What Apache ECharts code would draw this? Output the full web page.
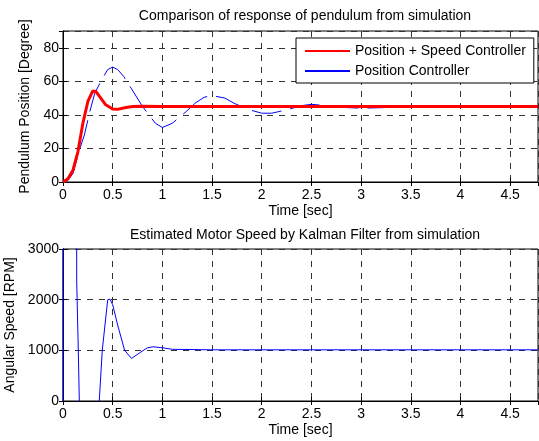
<!DOCTYPE html>
<html><head><meta charset="utf-8">
<script src="https://cdn.jsdelivr.net/npm/echarts@6/dist/echarts.min.js"></script>
<style>html,body{margin:0;padding:0;background:#fff}#c{width:539px;height:441px}</style>
</head><body><div id="c"></div>
<script>
// Top plot: pendulum position [deg] vs time [sec]
const posSpeedCtrl = [[0,0],[0.05,2],[0.1,7],[0.15,18],[0.2,35],[0.25,48],[0.3,54.3],[0.33,54],[0.38,50],[0.43,46],[0.5,43.5],[0.55,43.3],[0.62,44.3],[0.7,45],[0.8,45.2],[1.0,45],[1.5,45],[2.0,45],[2.5,45],[3.0,45],[3.5,45],[4.0,45],[4.5,45],[4.78,45]];
const posCtrl = [[0,0],[0.05,1],[0.1,5],[0.17,20],[0.215,28],[0.27,42],[0.32,53],[0.39,61],[0.45,67],[0.5,68.5],[0.55,67],[0.61,63],[0.69,55.5],[0.8,45],[0.93,35],[1.0,32.5],[1.1,35],[1.24,42],[1.33,47],[1.42,50.5],[1.5,51.5],[1.63,50],[1.72,47],[1.85,43.5],[2.0,41],[2.1,41],[2.25,43],[2.4,45.5],[2.5,46.3],[2.65,45.5],[2.8,44.5],[3.0,44],[3.2,44.3],[3.5,45],[4.0,45],[4.5,45],[4.78,45]];
// Bottom plot: estimated motor speed [RPM]
const motorSpeed = [[0,0],[0.002,6000],[0.135,6000],[0.138,2350],[0.154,1000],[0.164,0],[0.2,-3000],[0.33,-3000],[0.365,0],[0.395,1000],[0.45,2000],[0.473,2010],[0.5,1900],[0.55,1500],[0.62,1000],[0.69,840],[0.77,950],[0.85,1050],[0.905,1070],[1.0,1050],[1.1,1020],[1.5,1010],[2.0,1010],[3.0,1010],[4.0,1010],[4.78,1010]];
const xTicks = {min:0, max:4.78, interval:0.5};
const yTop = {min:0, max:90, interval:20};
const yBot = {min:0, max:3000, interval:1000};
const titles = ['Comparison of response of pendulum from simulation','Estimated Motor Speed by Kalman Filter from simulation'];
const seriesNames = ['Position + Speed Controller','Position Controller'];

const FONT = 'Liberation Sans, Arial, sans-serif';
const txt = {color:'#000', fontFamily:FONT, fontSize:14};
const dash = {show:true, lineStyle:{color:'#333', width:1, type:[6,6]}};
const fmt = v => String(v);
const tick = {show:true, inside:true, length:4, lineStyle:{color:'#000'}};
function xAxis(gi){
  return {type:'value', gridIndex:gi, min:xTicks.min, max:xTicks.max, interval:xTicks.interval,
    name:'Time [sec]', nameLocation:'middle', nameGap:22, nameTextStyle:txt,
    axisLine:{show:true, lineStyle:{color:'#000'}}, axisTick:tick,
    axisLabel:Object.assign({margin:6, showMaxLabel:false, formatter:fmt}, txt), splitLine:dash};
}
function xAxisTop(gi){
  return {type:'value', gridIndex:gi, position:'top', min:xTicks.min, max:xTicks.max, interval:xTicks.interval,
    axisLine:{show:true, lineStyle:{color:'#000'}}, axisTick:tick, axisLabel:{show:false}, splitLine:{show:false}};
}
function yAxis(gi, r, name){
  return {type:'value', gridIndex:gi, min:r.min, max:r.max, interval:r.interval,
    name:name, nameLocation:'middle', nameGap:30, nameTextStyle:txt,
    axisLine:{show:true, lineStyle:{color:'#000'}}, axisTick:tick,
    axisLabel:Object.assign({margin:4, showMaxLabel:r.max%r.interval===0, formatter:fmt}, txt), splitLine:dash};
}
function yAxisRight(gi, r){
  return {type:'value', gridIndex:gi, position:'right', min:r.min, max:r.max, interval:r.interval,
    axisLine:{show:true, lineStyle:{color:'#000'}}, axisTick:tick, axisLabel:{show:false}, splitLine:{show:false}};
}
const chart = echarts.init(document.getElementById('c'), null, {renderer:'canvas'});
chart.setOption({
  backgroundColor:'#fff',
  animation:false,
  title:[
    {text:titles[0], left:300, top:4, textAlign:'center', textStyle:Object.assign({fontWeight:'normal'}, txt)},
    {text:titles[1], left:300, top:223, textAlign:'center', textStyle:Object.assign({fontWeight:'normal'}, txt)}
  ],
  grid:[
    {left:63, top:31, width:475, height:151, show:true, borderColor:'#000', borderWidth:1, backgroundColor:'#fff', containLabel:false, outerBoundsMode:'none'},
    {left:63, top:249, width:475, height:152, show:true, borderColor:'#000', borderWidth:1, backgroundColor:'#fff', containLabel:false, outerBoundsMode:'none'}
  ],
  xAxis:[xAxis(0), xAxis(1), xAxisTop(0), xAxisTop(1)],
  yAxis:[yAxis(0, yTop, 'Pendulum Position [Degree]'), yAxis(1, yBot, 'Angular Speed [RPM]'), yAxisRight(0, yTop), yAxisRight(1, yBot)],
  legend:{orient:'vertical', left:296, top:38,
    data:[{name:seriesNames[0]}, {name:seriesNames[1], lineStyle:{type:'solid'}}],
    backgroundColor:'#fff',
    borderColor:'#000', borderWidth:1, borderRadius:0, padding:[6,8,5,8], itemGap:6,
    itemWidth:45, itemHeight:14, textStyle:txt, itemStyle:{opacity:0}},
  series:[
    {name:seriesNames[0], type:'line', xAxisIndex:0, yAxisIndex:0, data:posSpeedCtrl, symbol:'none', clip:true, z:3,
      lineStyle:{color:'#ff0000', width:3}, itemStyle:{color:'#ff0000'}},
    {name:seriesNames[1], type:'line', xAxisIndex:0, yAxisIndex:0, data:posCtrl, symbol:'none', clip:true, z:2,
      lineStyle:{color:'#0000ff', width:1, type:[30,9]}, itemStyle:{color:'#0000ff'}},
    {name:'Motor Speed', type:'line', xAxisIndex:1, yAxisIndex:1, data:motorSpeed, symbol:'none', clip:true,
      lineStyle:{color:'#0000ff', width:1}, itemStyle:{color:'#0000ff'}}
  ]
});
</script></body></html>
